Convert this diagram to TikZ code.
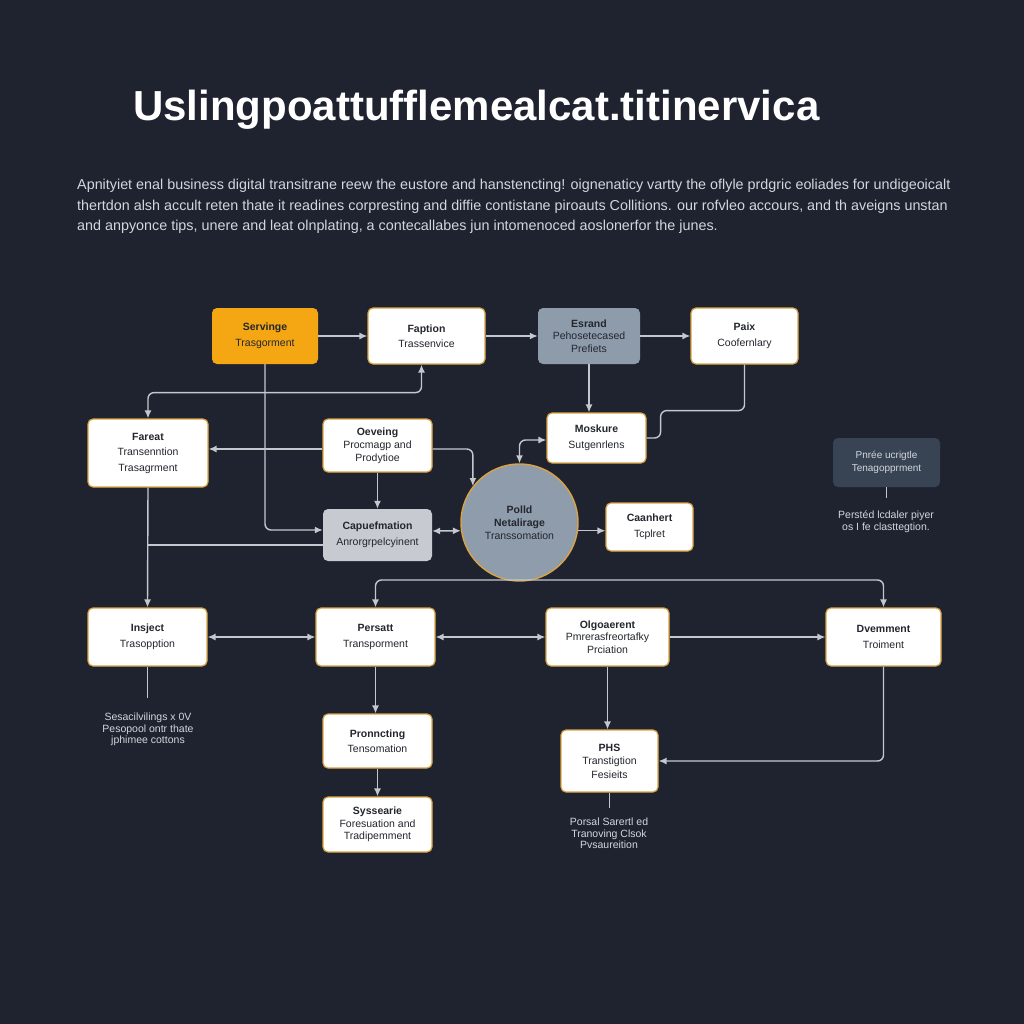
\documentclass[tikz,border=0pt]{standalone}
\usepackage{fontspec}
\setmainfont{Liberation Sans}
\usetikzlibrary{arrows.meta,calc}
\definecolor{bg}{HTML}{1F2330}
\definecolor{gold}{HTML}{D9A441}
\definecolor{linec}{HTML}{C3C8CF}
\definecolor{boxtext}{HTML}{23262D}
\definecolor{orangef}{HTML}{F5A713}
\definecolor{grayf}{HTML}{8D9BAB}
\definecolor{lgrayf}{HTML}{C7CBD1}
\definecolor{circf}{HTML}{8F9CAB}
\definecolor{darkf}{HTML}{384454}
\definecolor{paratext}{HTML}{D3D6DC}
\begin{document}
\begin{tikzpicture}[x=1pt,y=-1pt,
  base/.style={rounded corners=5pt, align=center, inner sep=0pt, text=boxtext, font=\fontsize{10.5}{15.5}\selectfont},
  wbox/.style={base, draw=gold, line width=1.2pt, fill=white},
  obox/.style={base, fill=orangef},
  gbox/.style={base, fill=grayf},
  lbox/.style={base, fill=lgrayf},
  dbox/.style={base, fill=darkf, text=paratext},
  note/.style={align=center, inner sep=0pt, text=paratext, font=\fontsize{10.5}{11.2}\selectfont},
  plain/.style={draw=linec, line width=1.4pt, rounded corners=6pt},
  conn/.style={plain, -{Latex[length=8pt,width=7pt]}},
  biconn/.style={plain, {Latex[length=8pt,width=7pt]}-{Latex[length=8pt,width=7pt]}},
  para/.style={anchor=west, inner sep=0pt, text=paratext, font=\fontsize{14.35}{17}\selectfont}
]
\fill[bg] (0,0) rectangle (1024,1024);
\useasboundingbox (0,0) rectangle (1024,1024);

\node[anchor=west, inner sep=0pt, text=white, font=\bfseries\fontsize{42}{48}\selectfont] (title) at (133,110) {Uslingpoattufflemealcat.titinervica};

\node[para] (p1) at (77,186) {Apnityiet enal business digital transitrane reew the eustore and hanstencting! oignenaticy vartty the oflyle prdgric eoliades for undigeoicalt};
\node[para] (p2) at (77,207) {thertdon alsh accult reten thate it readines corpresting and diffie contistane piroauts Collitions. our rofvleo accours, and th aveigns unstan};
\node[para] (p3) at (77,227) {and anpyonce tips, unere and leat olnplating, a contecallabes jun intomenoced aoslonerfor the junes.};

% row 1
\node[obox, minimum width=106pt, minimum height=56pt] (serv) at (265,336) {\textbf{Servinge}\\Trasgorment};
\node[wbox, minimum width=117pt, minimum height=56pt] (fapt) at (426.5,336) {\textbf{Faption}\\Trassenvice};
\node[gbox, minimum width=102pt, minimum height=56pt, font=\fontsize{10.5}{12.5}\selectfont] (esr) at (589,336) {\textbf{Esrand}\\Pehosetecased\\Prefiets};
\node[wbox, minimum width=107pt, minimum height=56pt] (paix) at (744.5,336) {\textbf{Paix}\\Coofernlary};

% row 2
\node[wbox, minimum width=120pt, minimum height=68pt] (far) at (148,453) {\textbf{Fareat}\\Transenntion\\Trasagrment};
\node[wbox, minimum width=109pt, minimum height=53pt, font=\fontsize{10.5}{13}\selectfont] (oov) at (377.5,445.5) {\textbf{Oeveing}\\Procmagp and\\Prodytioe};
\node[wbox, minimum width=99pt, minimum height=50pt] (mosk) at (596.5,438) {\textbf{Moskure}\\Sutgenrlens};
\node[dbox, minimum width=107pt, minimum height=49pt, font=\fontsize{10}{12.5}\selectfont] (dark) at (886.5,462.5) {Pnrée ucrigtle\\Tenagopprment};
\node[note, anchor=north] (dnote) at (886,511) {Perstéd lcdaler piyer\\os I fe clasttegtion.};

% row 3
\node[lbox, minimum width=109pt, minimum height=52pt] (capu) at (377.5,535) {\textbf{Capuefmation}\\Anrorgrpelcyinent};
\node[circle, draw=gold, line width=1.4pt, fill=circf, minimum size=117pt, inner sep=0pt, align=center, text=boxtext, font=\fontsize{10.5}{13}\selectfont] (circ) at (519.5,522.5) {\textbf{Polld}\\\textbf{Netalirage}\\Transsomation};
\node[wbox, minimum width=87pt, minimum height=48pt] (caan) at (649.5,527) {\textbf{Caanhert}\\Tcplret};

% row 4
\node[wbox, minimum width=119pt, minimum height=58pt] (insj) at (147.5,637) {\textbf{Insject}\\Trasopption};
\node[wbox, minimum width=119pt, minimum height=58pt] (pers) at (375.5,637) {\textbf{Persatt}\\Transporment};
\node[wbox, minimum width=123pt, minimum height=58pt, font=\fontsize{10.5}{12.5}\selectfont] (olgo) at (607.5,637) {\textbf{Olgoaerent}\\Pmrerasfreortafky\\Prciation};
\node[wbox, minimum width=115pt, minimum height=58pt] (dvem) at (883.5,637) {\textbf{Dvemment}\\Troiment};

% row 5/6
\node[wbox, minimum width=109pt, minimum height=54pt] (pron) at (377.5,741) {\textbf{Pronncting}\\Tensomation};
\node[wbox, minimum width=109pt, minimum height=55pt, font=\fontsize{10.5}{12.5}\selectfont] (syss) at (377.5,824.5) {\textbf{Syssearie}\\Foresuation and\\Tradipemment};
\node[wbox, minimum width=97pt, minimum height=62pt, font=\fontsize{10.5}{13.5}\selectfont] (phs) at (609.5,761) {\textbf{PHS}\\Transtigtion\\Fesieits};

\node[note, anchor=north] (inote) at (148,713) {Sesacilvilings x 0V\\Pesopool ontr thate\\jphimee cottons};
\node[note, anchor=north] (pnote) at (609,818) {Porsal Sarertl ed\\Tranoving Clsok\\Pvsaureition};

% connectors
\draw[conn] (serv.east) -- (fapt.west);
\draw[conn] (fapt.east) -- (esr.west);
\draw[conn] (esr.east) -- (paix.west);
\draw[conn] (serv.south) |- ($(capu.west)+(0,-5)$);
\draw[biconn] (far.north) |- ($(fapt.south)+(-5,28)$) -- ($(fapt.south)+(-5,0)$);
\coordinate (ow) at ($(oov.west)+(0,3.5)$);
\draw[conn] (ow) -- (far.east |- ow);
\draw[conn] ($(oov.east)+(0,3.5)$) -| (circ.142);
\draw[conn] (oov.south) -- (capu.north);
\draw[conn] (far.south) -- (insj.north);
\coordinate (cw) at ($(capu.west)+(0,10)$);
\draw[plain] (cw) -- (far.south |- cw);
\draw[biconn] ($(capu.east)+(0,-4)$) -- (circ.188);
\draw[conn] (circ.352) -- (caan.west |- circ.352);
\draw[biconn] (circ.north) |- ($(mosk.west)+(0,2)$);
\draw[conn] (esr.south) -- (esr.south |- mosk.north);
\draw[plain] (paix.south) -- ++(0,46) -| ($(mosk.east)+(14,0)$) -- (mosk.east);
\coordinate (h) at (0,580);
\draw[biconn] (pers.north) -- (pers.north |- h) -- (dvem.north |- h) -- (dvem.north);
\draw[biconn] (insj.east) -- (pers.west);
\draw[biconn] (pers.east) -- (olgo.west);
\draw[conn] (olgo.east) -- (dvem.west);
\draw[conn] (olgo.south) -- (olgo.south |- phs.north);
\draw[conn] (dvem.south) |- (phs.east);
\draw[conn] (pers.south) -- (pers.south |- pron.north);
\draw[conn] (pron.south) -- (syss.north);
\draw[plain] (dark.south) -- ++(0,11);
\draw[plain] (insj.south) -- ++(0,31);
\draw[plain] (phs.south) -- ++(0,15);
\end{tikzpicture}
\end{document}
